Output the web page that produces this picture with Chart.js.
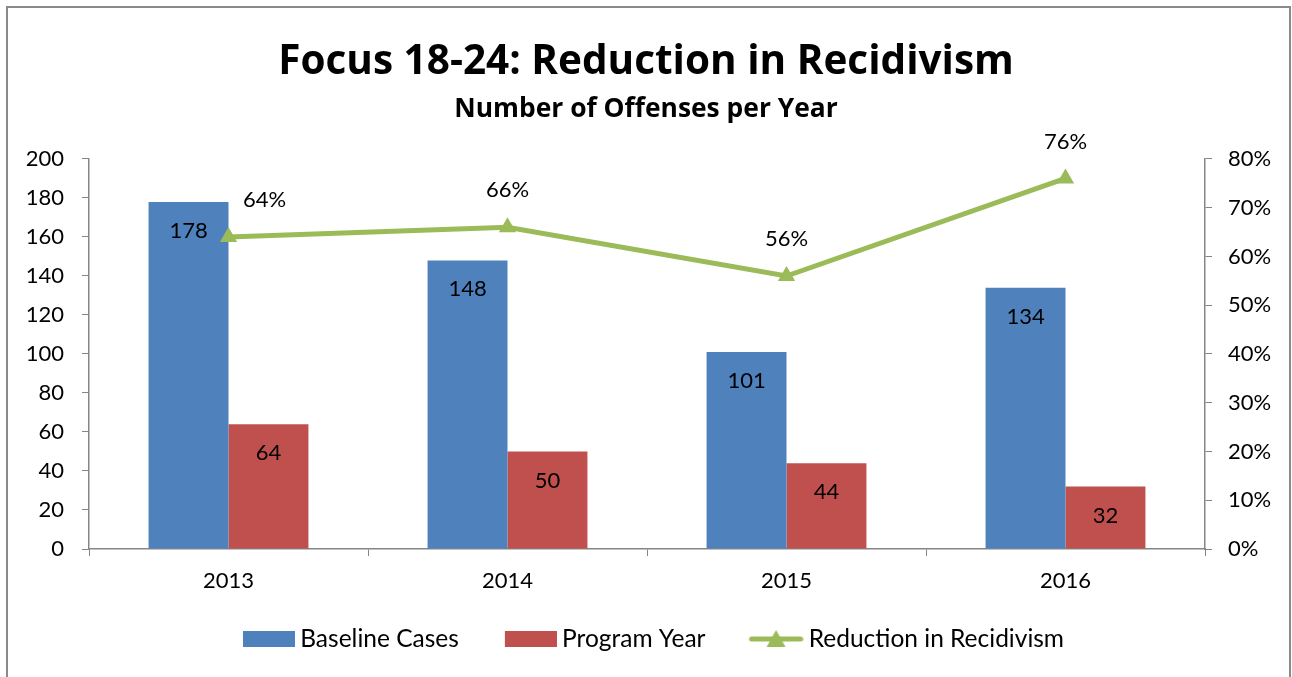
<!DOCTYPE html>
<html>
<head>
<meta charset="utf-8">
<script src="https://cdn.jsdelivr.net/npm/chart.js@4.4.2/dist/chart.umd.min.js"></script>
<style>
  html, body { margin: 0; padding: 0; background: #fff; }
  #wrap { width: 1292px; height: 677px; position: relative; }
</style>
</head>
<body>
<div id="wrap"><canvas id="chart" width="1292" height="677"></canvas></div>
<script>
// Offenses per year and the resulting reduction rate
const years = ['2013', '2014', '2015', '2016'];
const baselineCases = [178, 148, 101, 134];
const programYear = [64, 50, 44, 32];
const reductionPct = [0.64, 0.66, 0.56, 0.76];

const BLUE = '#4F81BD';
const RED = '#C0504D';
const GREEN = '#9BBB59';
const AXIS_GREY = '#868686';
const FONT = 'Lato';
const TITLE_FONT = 'Open Sans';

// Legend marker images. The image is wider than the legend box so the
// marker can sit right next to its text; the left part stays empty.
const MARK_BOX = 60;

function makeBoxMarker(color) {
  const c = document.createElement('canvas');
  c.width = MARK_BOX + 14;
  c.height = 16;
  const ctx = c.getContext('2d');
  ctx.fillStyle = color;
  ctx.fillRect(c.width - 52, 0, 52, 16);
  return c;
}

function makeLineMarker(color) {
  const c = document.createElement('canvas');
  c.width = MARK_BOX + 14;
  c.height = 20;
  const ctx = c.getContext('2d');
  const x0 = c.width - 55;
  ctx.strokeStyle = color;
  ctx.lineWidth = 5;
  ctx.lineCap = 'round';
  ctx.beginPath();
  ctx.moveTo(x0 + 3, 10);
  ctx.lineTo(c.width - 3, 10);
  ctx.stroke();
  ctx.fillStyle = color;
  ctx.beginPath();
  ctx.moveTo(x0 + 27.5, 1);
  ctx.lineTo(x0 + 37, 18);
  ctx.lineTo(x0 + 18, 18);
  ctx.closePath();
  ctx.fill();
  return c;
}

const legendMarkers = [makeBoxMarker(BLUE), makeBoxMarker(RED), makeLineMarker(GREEN)];

// Grey frame around the whole chart
const framePlugin = {
  id: 'frame',
  beforeDraw(chart) {
    const ctx = chart.ctx;
    ctx.save();
    ctx.fillStyle = '#fff';
    ctx.fillRect(0, 0, chart.width, chart.height);
    ctx.strokeStyle = '#8a8a8a';
    ctx.lineWidth = 2;
    ctx.strokeRect(7, 7, 1283, 690);
    ctx.restore();
  }
};

// Value labels: inside the top of each bar, above each line point
const valueLabelPlugin = {
  id: 'valueLabels',
  afterDatasetsDraw(chart) {
    const ctx = chart.ctx;
    ctx.save();
    ctx.font = '22px ' + FONT;
    ctx.fillStyle = '#000';
    ctx.textAlign = 'center';
    ctx.textBaseline = 'middle';
    chart.data.datasets.forEach((ds, di) => {
      const meta = chart.getDatasetMeta(di);
      meta.data.forEach((el, i) => {
        const v = ds.data[i];
        if (ds.type === 'line') {
          const dx = i === 0 ? 36 : 0;
          ctx.fillText(Math.round(v * 100) + '%', el.x + dx, el.y - 37);
        } else {
          ctx.fillText(String(v), el.x, el.y + 29);
        }
      });
    });
    ctx.restore();
  }
};

new Chart(document.getElementById('chart'), {
  type: 'bar',
  data: {
    labels: years,
    datasets: [
      {
        type: 'line',
        label: 'Reduction in Recidivism',
        data: reductionPct,
        yAxisID: 'y1',
        borderColor: GREEN,
        backgroundColor: GREEN,
        borderWidth: 5,
        pointStyle: 'triangle',
        pointRadius: 10,
        pointBorderWidth: 0,
        pointBackgroundColor: GREEN,
        tension: 0,
        order: 0
      },
      {
        label: 'Baseline Cases',
        data: baselineCases,
        yAxisID: 'y',
        backgroundColor: BLUE,
        barPercentage: 1,
        categoryPercentage: 0.573,
        order: 1
      },
      {
        label: 'Program Year',
        data: programYear,
        yAxisID: 'y',
        backgroundColor: RED,
        barPercentage: 1,
        categoryPercentage: 0.573,
        order: 1
      }
    ]
  },
  options: {
    responsive: false,
    animation: false,
    layout: { padding: { top: 0, bottom: 15.75, left: 0, right: 0 } },
    plugins: {
      title: {
        display: true,
        text: 'Focus 18-24: Reduction in Recidivism',
        color: '#000',
        font: { family: TITLE_FONT, size: 40.5, weight: 'bold', lineHeight: 1.2 },
        padding: { top: 38, bottom: 0 }
      },
      subtitle: {
        display: true,
        text: 'Number of Offenses per Year',
        color: '#000',
        font: { family: TITLE_FONT, size: 26.4, weight: 'bold', lineHeight: 1.2 },
        padding: { top: 7.4, bottom: 33.3 }
      },
      legend: {
        position: 'bottom',
        labels: {
          usePointStyle: true,
          pointStyleWidth: MARK_BOX,
          padding: 31,
          color: '#000',
          font: { family: FONT, size: 24.5 },
          generateLabels(chart) {
            const order = [1, 2, 0];
            return order.map((di, k) => ({
              text: chart.data.datasets[di].label,
              pointStyle: legendMarkers[k],
              datasetIndex: di,
              hidden: false,
              lineWidth: 0,
              fontColor: '#000'
            }));
          }
        }
      },
      tooltip: { enabled: false }
    },
    scales: {
      x: {
        grid: {
          display: true,
          offset: true,
          drawOnChartArea: false,
          drawTicks: true,
          tickLength: 7,
          color: AXIS_GREY
        },
        border: { display: true, color: AXIS_GREY, width: 1.5 },
        ticks: {
          color: '#000',
          padding: 12,
          font: { family: FONT, size: 22 }
        },
        afterFit(scale) { scale.height = 46.75; }
      },
      y: {
        position: 'left',
        min: 0,
        max: 200,
        grid: {
          drawOnChartArea: false,
          tickLength: 7,
          color: AXIS_GREY
        },
        border: { display: true, color: AXIS_GREY, width: 1.5 },
        ticks: {
          stepSize: 20,
          color: '#000',
          padding: 18,
          font: { family: FONT, size: 22 }
        },
        afterFit(scale) { scale.width = 89; }
      },
      y1: {
        position: 'right',
        min: 0,
        max: 0.8,
        grid: {
          drawOnChartArea: false,
          tickLength: 7,
          color: AXIS_GREY
        },
        border: { display: true, color: AXIS_GREY, width: 1.5 },
        ticks: {
          stepSize: 0.1,
          color: '#000',
          padding: 16,
          font: { family: FONT, size: 22 },
          callback: v => Math.round(v * 100) + '%'
        },
        afterFit(scale) { scale.width = 87; }
      }
    }
  },
  plugins: [framePlugin, valueLabelPlugin]
});
</script>
</body>
</html>
